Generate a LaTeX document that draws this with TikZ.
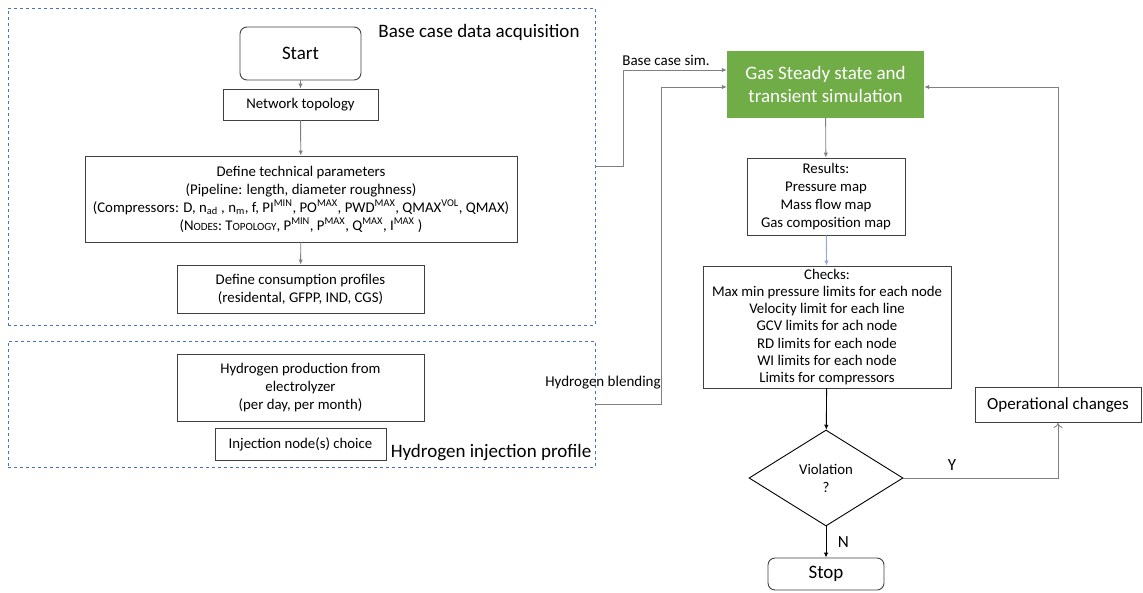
\documentclass[tikz,border=0pt]{standalone}
\usepackage{fontspec}
\setmainfont{Carlito}
\usetikzlibrary{arrows.meta, positioning, shapes.geometric}
\definecolor{boxline}{RGB}{64,64,64}
\definecolor{connline}{RGB}{128,128,128}
\definecolor{framecol}{RGB}{68,114,196}
\definecolor{simgreen}{RGB}{112,173,71}
\definecolor{linkblue}{RGB}{142,169,219}
\newcommand{\fsc}[2]{#1{\fontsize{11}{12}\selectfont #2}} % fake small caps
\tikzset{
  >={Latex[length=5pt,width=4.5pt]}, % small filled heads
  every node/.style={font=\fontsize{14.8}{18}\selectfont, align=center},
  block/.style={draw=boxline, line width=0.9pt, inner sep=2pt},
  endbox/.style={block, rounded corners=7pt, font=\fontsize{19}{22}\selectfont},
  frame/.style={draw=framecol, dashed, line width=0.9pt},
  conn/.style={draw=connline, line width=0.9pt, ->},
  biglabel/.style={font=\fontsize{19}{22}\selectfont},
  smalllabel/.style={font=\fontsize{15}{17}\selectfont},
}
\begin{document}
\begin{tikzpicture}[x=1pt, y=-1pt]
  \useasboundingbox (0,0) rectangle (1143,592);

  % data acquisition frames
  \node[frame, minimum width=587pt, minimum height=317pt] (base) at (301.5,166.5) {};
  \node[frame, minimum width=587pt, minimum height=126pt] (hydro) at (301.5,404) {};
  \node[biglabel] (baselbl) at (479,32) {Base case data acquisition};
  \node[biglabel] (hydrolbl) at (491,453) {Hydrogen injection profile};

  % left column
  \node[endbox, minimum width=121pt, minimum height=53pt] (start) at (300.5,53.5) {Start};
  \node[block, minimum width=155pt, minimum height=31pt] (topo) at (300.5,104.5) {Network topology};
  \node[block, minimum width=432pt, minimum height=86pt] (tech) at (301,199) {%
    Define technical parameters\\
    (Pipeline: length, diameter roughness)\\
    (Compressors: D, n\textsubscript{ad} , n\textsubscript{m}, f, PI\textsuperscript{MIN}, PO\textsuperscript{MAX}, PWD\textsuperscript{MAX}, QMAX\textsuperscript{VOL}, QMAX)\\
    (\fsc{N}{ODES}: \fsc{T}{OPOLOGY}, P\textsuperscript{MIN}, P\textsuperscript{MAX}, Q\textsuperscript{MAX}, I\textsuperscript{MAX} )};
  \node[block, minimum width=247pt, minimum height=48pt] (cons) at (300.5,289) {%
    Define consumption profiles\\(residental, GFPP, IND, CGS)};
  \node[block, minimum width=247pt, minimum height=67pt] (hprod) at (300.5,388) {%
    Hydrogen production from\\electrolyzer\\(per day, per month)};
  \node[block, minimum width=171pt, minimum height=32pt] (inj) at (300.5,444) {Injection node(s) choice};

  % right column
  \node[fill=simgreen, text=white, minimum width=197pt, minimum height=67pt,
        font=\fontsize{19}{23}\selectfont] (sim) at (825.5,84.5) {Gas Steady state and\\transient simulation};
  \node[block, minimum width=158pt, minimum height=77pt] (res) at (826,196.5) {%
    Results:\\Pressure map\\Mass flow map\\Gas composition map};
  \node[block, minimum width=248pt, minimum height=122pt, font=\fontsize{14.8}{17.3}\selectfont] (chk) at (827,327) {%
    Checks:\\Max min pressure limits for each node\\Velocity limit for each line\\
    GCV limits for ach node\\RD limits for each node\\WI limits for each node\\Limits for compressors};
  \node[draw=black, line width=0.9pt, diamond, inner sep=0pt, minimum width=154pt,
        minimum height=96pt, aspect=1.6] (viol) at (826,478) {Violation\\?};
  \node[endbox, minimum width=116pt, minimum height=32pt] (stop) at (826,574) {Stop};
  \node[block, minimum width=166pt, minimum height=35pt, font=\fontsize{17}{20}\selectfont] (ops) at (1058,405) {Operational changes};

  % connectors
  \draw[conn] (start) -- (topo);
  \draw[conn] (topo) -- (tech);
  \draw[conn] (tech) -- (cons);
  \draw[conn] (base.east) -- ++(28,0) |- ([yshift=14.5pt]sim.west);
  \draw[conn] (hydro.east) -- ++(66,0) |- ([yshift=-2.5pt]sim.west);
  \node[smalllabel] (bsim) at (666,60) {Base case sim.};
  \node[smalllabel] (blend) at (603,383) {Hydrogen blending};
  \draw[conn] (sim) -- (res);
  \draw[conn, draw=linkblue] (res) -- (chk);
  \draw[conn, draw=black] (chk) -- (viol);
  \draw[conn, draw=black] (viol) -- node[right=8pt, font=\fontsize{17}{20}\selectfont] {N} (stop);
  \draw[draw=connline, line width=0.9pt, -{To[length=5pt,width=9pt]}] (viol.east) -| (ops.south);
  \node[font=\fontsize{17}{20}\selectfont] (ylbl) at (952,465) {Y};
  \draw[conn] (ops.north) |- ([yshift=-2.5pt]sim.east);
\end{tikzpicture}
\end{document}
